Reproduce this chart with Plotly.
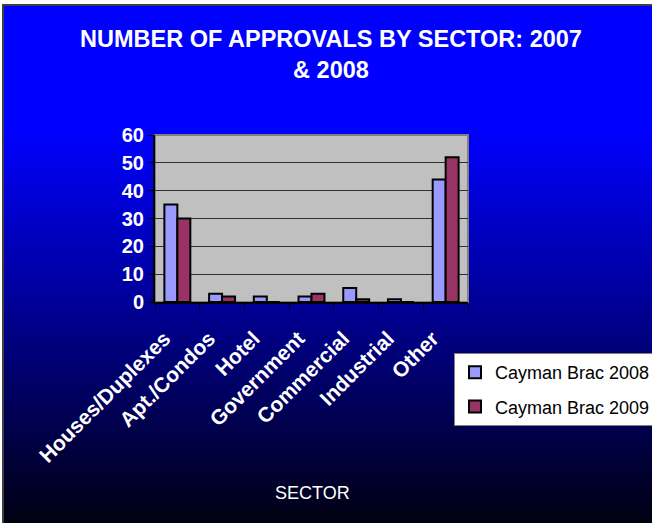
import plotly.graph_objects as go

categories = ["Houses/Duplexes", "Apt./Condos", "Hotel", "Government", "Commercial", "Industrial", "Other"]
values_2008 = [35, 3, 2, 2, 5, 1, 44]
values_2009 = [30, 2, 0, 3, 1, 0, 52]
series_names = ["Cayman Brac 2008", "Cayman Brac 2009"]
y_ticks = [0, 10, 20, 30, 40, 50, 60]

W, H = 652, 523
L, R, T, B = 155, 184, 135, 221
pw, ph = W - L - R, H - T - B

def px_x(x):
    return (x - L) / pw

def px_y(y):
    return (H - B - y) / ph

fig = go.Figure()
fig.add_trace(go.Bar(x=categories, y=values_2008, name=series_names[0],
                     marker=dict(color="#9999FF", line=dict(color="black", width=2)),
                     legendgroup="a"))
fig.add_trace(go.Bar(x=categories, y=values_2009, name=series_names[1],
                     marker=dict(color="#993366", line=dict(color="black", width=2)),
                     legendgroup="b"))

shapes = []
# gradient background
top_solid = 130
n = 80
shapes.append(dict(type="rect", xref="paper", yref="paper", layer="below",
                   x0=px_x(-5), x1=px_x(W + 5), y0=px_y(top_solid + 3), y1=px_y(-5),
                   fillcolor="rgb(0,0,255)", line=dict(width=0)))
for i in range(n):
    y0 = top_solid + (H - top_solid) * i / n
    y1 = top_solid + (H - top_solid) * (i + 1) / n
    t = (i + 0.5) / n
    b = int(round(255 + (18 - 255) * t))
    shapes.append(dict(type="rect", xref="paper", yref="paper", layer="below",
                       x0=px_x(-5), x1=px_x(W + 5), y0=px_y(y1 + 3), y1=px_y(y0),
                       fillcolor=f"rgb(0,0,{b})", line=dict(width=0)))
# white outer strips (top and left)
shapes.append(dict(type="rect", xref="paper", yref="paper", layer="below",
                   x0=px_x(-5), x1=px_x(W + 5), y0=px_y(4), y1=px_y(-5),
                   fillcolor="white", line=dict(width=0)))
shapes.append(dict(type="rect", xref="paper", yref="paper", layer="below",
                   x0=px_x(-5), x1=px_x(2), y0=px_y(H + 5), y1=px_y(-5),
                   fillcolor="white", line=dict(width=0)))
# plot area
shapes.append(dict(type="rect", xref="paper", yref="paper", layer="below",
                   x0=0, x1=1, y0=0, y1=1, fillcolor="#C0C0C0",
                   line=dict(color="#808080", width=2)))
# outer frame
shapes.append(dict(type="rect", xref="paper", yref="paper", layer="above",
                   x0=px_x(3), x1=px_x(W + 5), y0=px_y(H + 5), y1=px_y(5),
                   fillcolor="rgba(0,0,0,0)", line=dict(color="#404040", width=2)))

fig.update_layout(
    width=W, height=H,
    margin=dict(l=L, r=R, t=T, b=B, autoexpand=False),
    paper_bgcolor="rgb(0,0,120)",
    plot_bgcolor="rgba(0,0,0,0)",
    barmode="group",
    bargap=0.42,
    bargroupgap=0,
    shapes=shapes,
    showlegend=True,
    title=dict(text="NUMBER OF APPROVALS BY SECTOR: 2007<br>& 2008",
               x=px_x(331), xref="paper", xanchor="center",
               y=1 - 47 / H, yref="container", yanchor="top",
               font=dict(family="Liberation Sans", size=23.5, color="white", weight="bold")),
    font=dict(family="Liberation Sans"),
    legend=dict(x=px_x(454), y=px_y(353), xanchor="left", yanchor="top",
                bgcolor="white", bordercolor="#808080", borderwidth=1,
                font=dict(size=18, color="black"),
                traceorder="grouped", tracegroupgap=8),
    annotations=[dict(text="SECTOR", x=px_x(312), y=px_y(493), xref="paper", yref="paper",
                      xanchor="center", yanchor="middle",
                      showarrow=False, font=dict(size=18, color="white", family="Liberation Sans"))],
)
fig.update_xaxes(
    type="category", tickangle=-45, tickson="boundaries",
    ticks="outside", ticklen=5, tickcolor="black", tickwidth=1,
    showline=True, linecolor="black", linewidth=2,
    tickfont=dict(size=21, color="white", family="Liberation Sans", weight="bold"),
    ticklabelstandoff=14, ticklabelshift=-13,
    showgrid=False,
)
fig.update_yaxes(
    range=[0, 60], tickvals=y_ticks, ticks="outside", ticklen=5, tickcolor="black",
    showline=True, linecolor="black", linewidth=2,
    showgrid=True, gridcolor="#303030", gridwidth=1,
    tickfont=dict(size=20, color="white", family="Liberation Sans", weight="bold"),
    zeroline=False,
)

fig.write_html("out.html")
